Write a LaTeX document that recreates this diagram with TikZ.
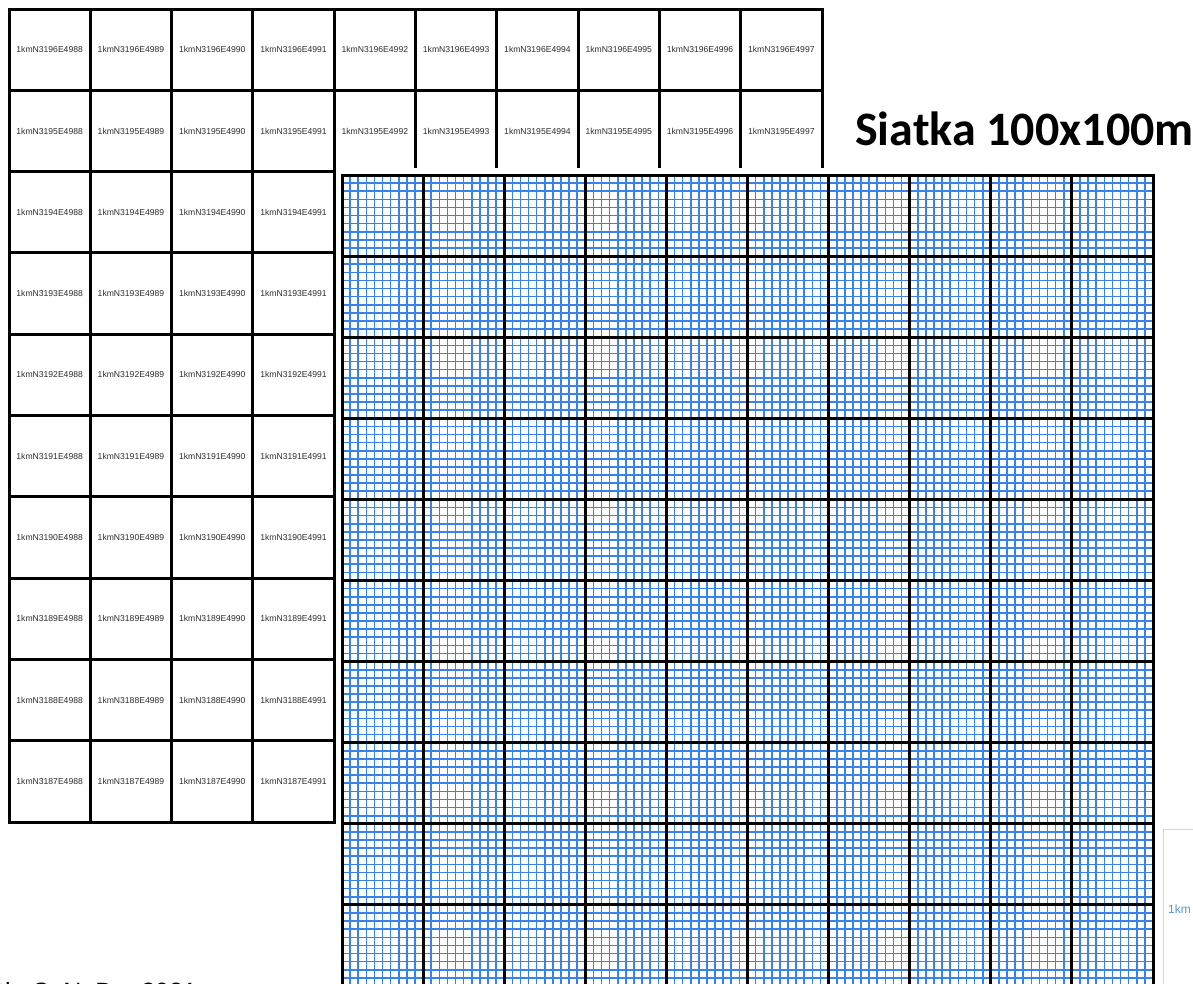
\documentclass[tikz,border=0pt]{standalone}
\usepackage{fontspec}
\setmainfont{Liberation Sans}
\newfontfamily\titlefont{Carlito}
\definecolor{gridblue}{RGB}{55,130,235}
\definecolor{celltext}{RGB}{45,45,45}
\definecolor{scaleblue}{RGB}{90,150,215}
\definecolor{scaleline}{RGB}{200,218,240}
\begin{document}
\begin{tikzpicture}[x=1pt,y=-1pt,
  kmcell/.style={draw=black,line width=3pt,minimum width=81.3pt,minimum height=81.3pt,
    inner sep=0pt,font=\fontsize{8.6}{9}\selectfont,text=celltext},
  fineline/.style={fill=gridblue},
  coarseline/.style={black,line width=3pt},
  scalebar/.style={scaleline,line width=1pt}]
\useasboundingbox[clip] (0,0) rectangle (1193,983);
\fill[white] (0,0) rectangle (1193,983);
% 1 km cells
\foreach \r in {0,...,9}{
  \pgfmathtruncatemacro\nn{3196-\r}
  \ifnum\r<2 \def\nc{9}\else\def\nc{3}\fi
  \foreach \c in {0,...,\nc}{
    \pgfmathtruncatemacro\ee{4988+\c}
    \node[kmcell] (k-\r-\c) at ({49.65+81.3*\c},{49.65+81.3*\r}) {1kmN\nn E\ee};
  }
}
% white backing of the 100 m grid
\fill[white] (336,168) rectangle (1160,990);
% fine 100 m lines (thin filled strips)
\foreach \i in {0,...,100}{
  \path[fineline] ({341.2+8.11*\i},175) rectangle ({342.8+8.11*\i},990);
  \path[fineline] (342,{174.2+8.11*\i}) rectangle (1153,{175.8+8.11*\i});
}
% 1 km lines
\foreach \i in {0,...,10}{
  \draw[coarseline] ({342+81.1*\i},173.5) -- ({342+81.1*\i},990);
  \draw[coarseline] (340.5,{175+81.1*\i}) -- (1154.5,{175+81.1*\i});
}
% title
\node[anchor=base west,font=\titlefont\bfseries\fontsize{48}{50}\selectfont,inner sep=0pt] (title) at (855,145) {Siatka 100x100m};
% scale bar
\coordinate (sbtop) at (1163,829);
\coordinate (sbbot) at (1163,990);
\coordinate (sbright) at (1195,829);
\draw[scalebar] (sbbot) -- (sbtop) -- (sbright);
\node[anchor=west,text=scaleblue,font=\fontsize{12}{12}\selectfont,inner sep=0pt] (sblabel) at (1168,909) {1km};
% source line (cut by the lower edge, as in the reference)
\node[anchor=base west,font=\fontsize{25}{25}\selectfont,inner sep=0pt] (src) at (-2,1000) {tk, C. N. D.,\ \ 2021};
\end{tikzpicture}
\end{document}
